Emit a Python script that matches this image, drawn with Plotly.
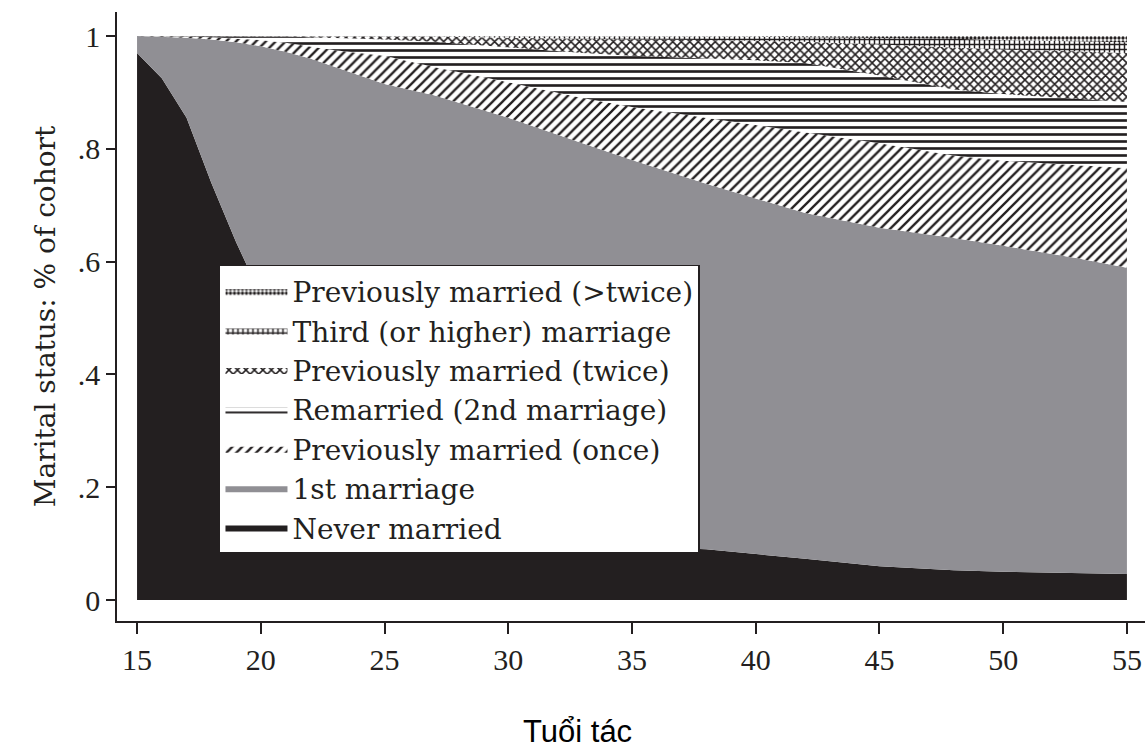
import plotly.graph_objects as go

# ---- data (shares of cohort by marital status) ----
ages = [15, 16, 17, 18, 19, 20, 21, 22, 23, 25, 27, 30, 33, 35, 38, 40, 42, 45, 48, 50, 53, 55]

never_married = [0.970, 0.925, 0.855, 0.740, 0.635, 0.540, 0.455, 0.380, 0.315, 0.225, 0.165,
                 0.120, 0.101, 0.095, 0.090, 0.082, 0.073, 0.060, 0.053, 0.050, 0.047, 0.046]
first_marriage = [0.030, 0.074, 0.142, 0.254, 0.354, 0.442, 0.517, 0.580, 0.630, 0.690, 0.730,
                  0.735, 0.709, 0.685, 0.648, 0.630, 0.613, 0.600, 0.589, 0.578, 0.559, 0.543]
prev_married_once = [0.000, 0.001, 0.002, 0.004, 0.007, 0.011, 0.016, 0.022, 0.030, 0.050, 0.050,
                     0.063, 0.080, 0.094, 0.117, 0.130, 0.144, 0.150, 0.146, 0.151, 0.165, 0.177]
remarried_2nd = [0.000, 0.000, 0.001, 0.002, 0.004, 0.006, 0.011, 0.016, 0.022, 0.029, 0.045,
                 0.062, 0.080, 0.091, 0.105, 0.115, 0.122, 0.120, 0.117, 0.118, 0.118, 0.117]
prev_married_twice = [0.000, 0.000, 0.000, 0.000, 0.000, 0.001, 0.001, 0.002, 0.003, 0.006, 0.009,
                      0.017, 0.025, 0.029, 0.033, 0.035, 0.038, 0.055, 0.074, 0.079, 0.084, 0.087]
third_marriage = [0.000, 0.000, 0.000, 0.000, 0.000, 0.000, 0.000, 0.000, 0.000, 0.000, 0.001,
                  0.003, 0.005, 0.006, 0.006, 0.007, 0.008, 0.012, 0.016, 0.017, 0.018, 0.019]
prev_married_more = [0.000, 0.000, 0.000, 0.000, 0.000, 0.000, 0.000, 0.000, 0.000, 0.000, 0.000,
                     0.000, 0.000, 0.000, 0.001, 0.001, 0.002, 0.003, 0.005, 0.007, 0.009, 0.011]

names = ["Never married", "1st marriage", "Previously married (once)",
         "Remarried (2nd marriage)", "Previously married (twice)",
         "Third (or higher) marriage", "Previously married (>twice)"]
values = [never_married, first_marriage, prev_married_once, remarried_2nd,
          prev_married_twice, third_marriage, prev_married_more]

x_ticks = [15, 20, 25, 30, 35, 40, 45, 50, 55]
y_ticks = [0, 0.2, 0.4, 0.6, 0.8, 1]
y_ticktext = ["0", ".2", ".4", ".6", ".8", "1"]

# ---- styles ----
INK = "#231f20"
GREY = "#908f94"
solid_colors = {0: INK, 1: GREY}
patterns = {2: dict(shape="/", size=7, solidity=0.33),
            3: dict(shape="-", size=7, solidity=0.38),
            4: dict(shape="x", size=6, solidity=0.45),
            5: dict(shape="+", size=5, solidity=0.5),
            6: dict(shape=".", size=4, solidity=0.55)}
SERIF = "Liberation Serif"
SERIF_WIDE = "DejaVu Serif"

fig = go.Figure()
for i, (name, vals) in enumerate(zip(names, values)):
    kw = dict(x=ages, y=vals, name=name, mode="lines", stackgroup="one",
              line=dict(width=0), hoverinfo="x+y+name")
    if i in solid_colors:
        kw["fillcolor"] = solid_colors[i]
    else:
        p = patterns[i]
        kw["fillcolor"] = "white"
        kw["fillpattern"] = dict(shape=p["shape"], size=p["size"], solidity=p["solidity"],
                                 fgcolor=INK, bgcolor="white", fillmode="replace")
    fig.add_trace(go.Scatter(**kw))

fig.update_layout(
    width=1145, height=749,
    margin=dict(l=117, r=0, t=12, b=128),
    paper_bgcolor="white", plot_bgcolor="white",
    showlegend=True,
    legend=dict(x=0.0992, y=0.5846, xanchor="left", yanchor="top",
                traceorder="reversed", bgcolor="white",
                bordercolor=INK, borderwidth=1.5, itemwidth=62,
                font=dict(family=SERIF_WIDE, size=28, color=INK)),
    font=dict(family=SERIF, color=INK),
)
fig.update_xaxes(range=[14.19, 55.73], tickvals=x_ticks, ticks="outside", ticklen=11,
                 tickwidth=1.5, tickcolor=INK, showline=True, linecolor=INK, linewidth=1.5,
                 showgrid=False, zeroline=False, ticklabeloverflow="allow",
                 tickfont=dict(family=SERIF, size=30, color=INK))
fig.update_yaxes(range=[-0.0372, 1.0426], tickvals=y_ticks, ticktext=y_ticktext,
                 ticks="outside", ticklen=9, tickwidth=1.5, tickcolor=INK,
                 showline=True, linecolor=INK, linewidth=1.5, showgrid=False, zeroline=False,
                 tickfont=dict(family=SERIF, size=30, color=INK),
                 title=dict(text="Marital status: % of cohort",
                            font=dict(family=SERIF_WIDE, size=28, color=INK), standoff=14))

fig.add_annotation(text="Tuổi tác", xref="paper", yref="paper",
                   x=(577 - 117) / 1028, y=(621 - 732) / 609,
                   xanchor="center", yanchor="middle", showarrow=False,
                   font=dict(family="Liberation Sans", size=31, color="black"))

# remove the browser's default 8px body margin so the 1145x749 figure fills the window
fig.write_html("out.html", config={"displayModeBar": False},
               post_script="document.body.style.margin='0px';document.body.style.overflow='hidden';")
